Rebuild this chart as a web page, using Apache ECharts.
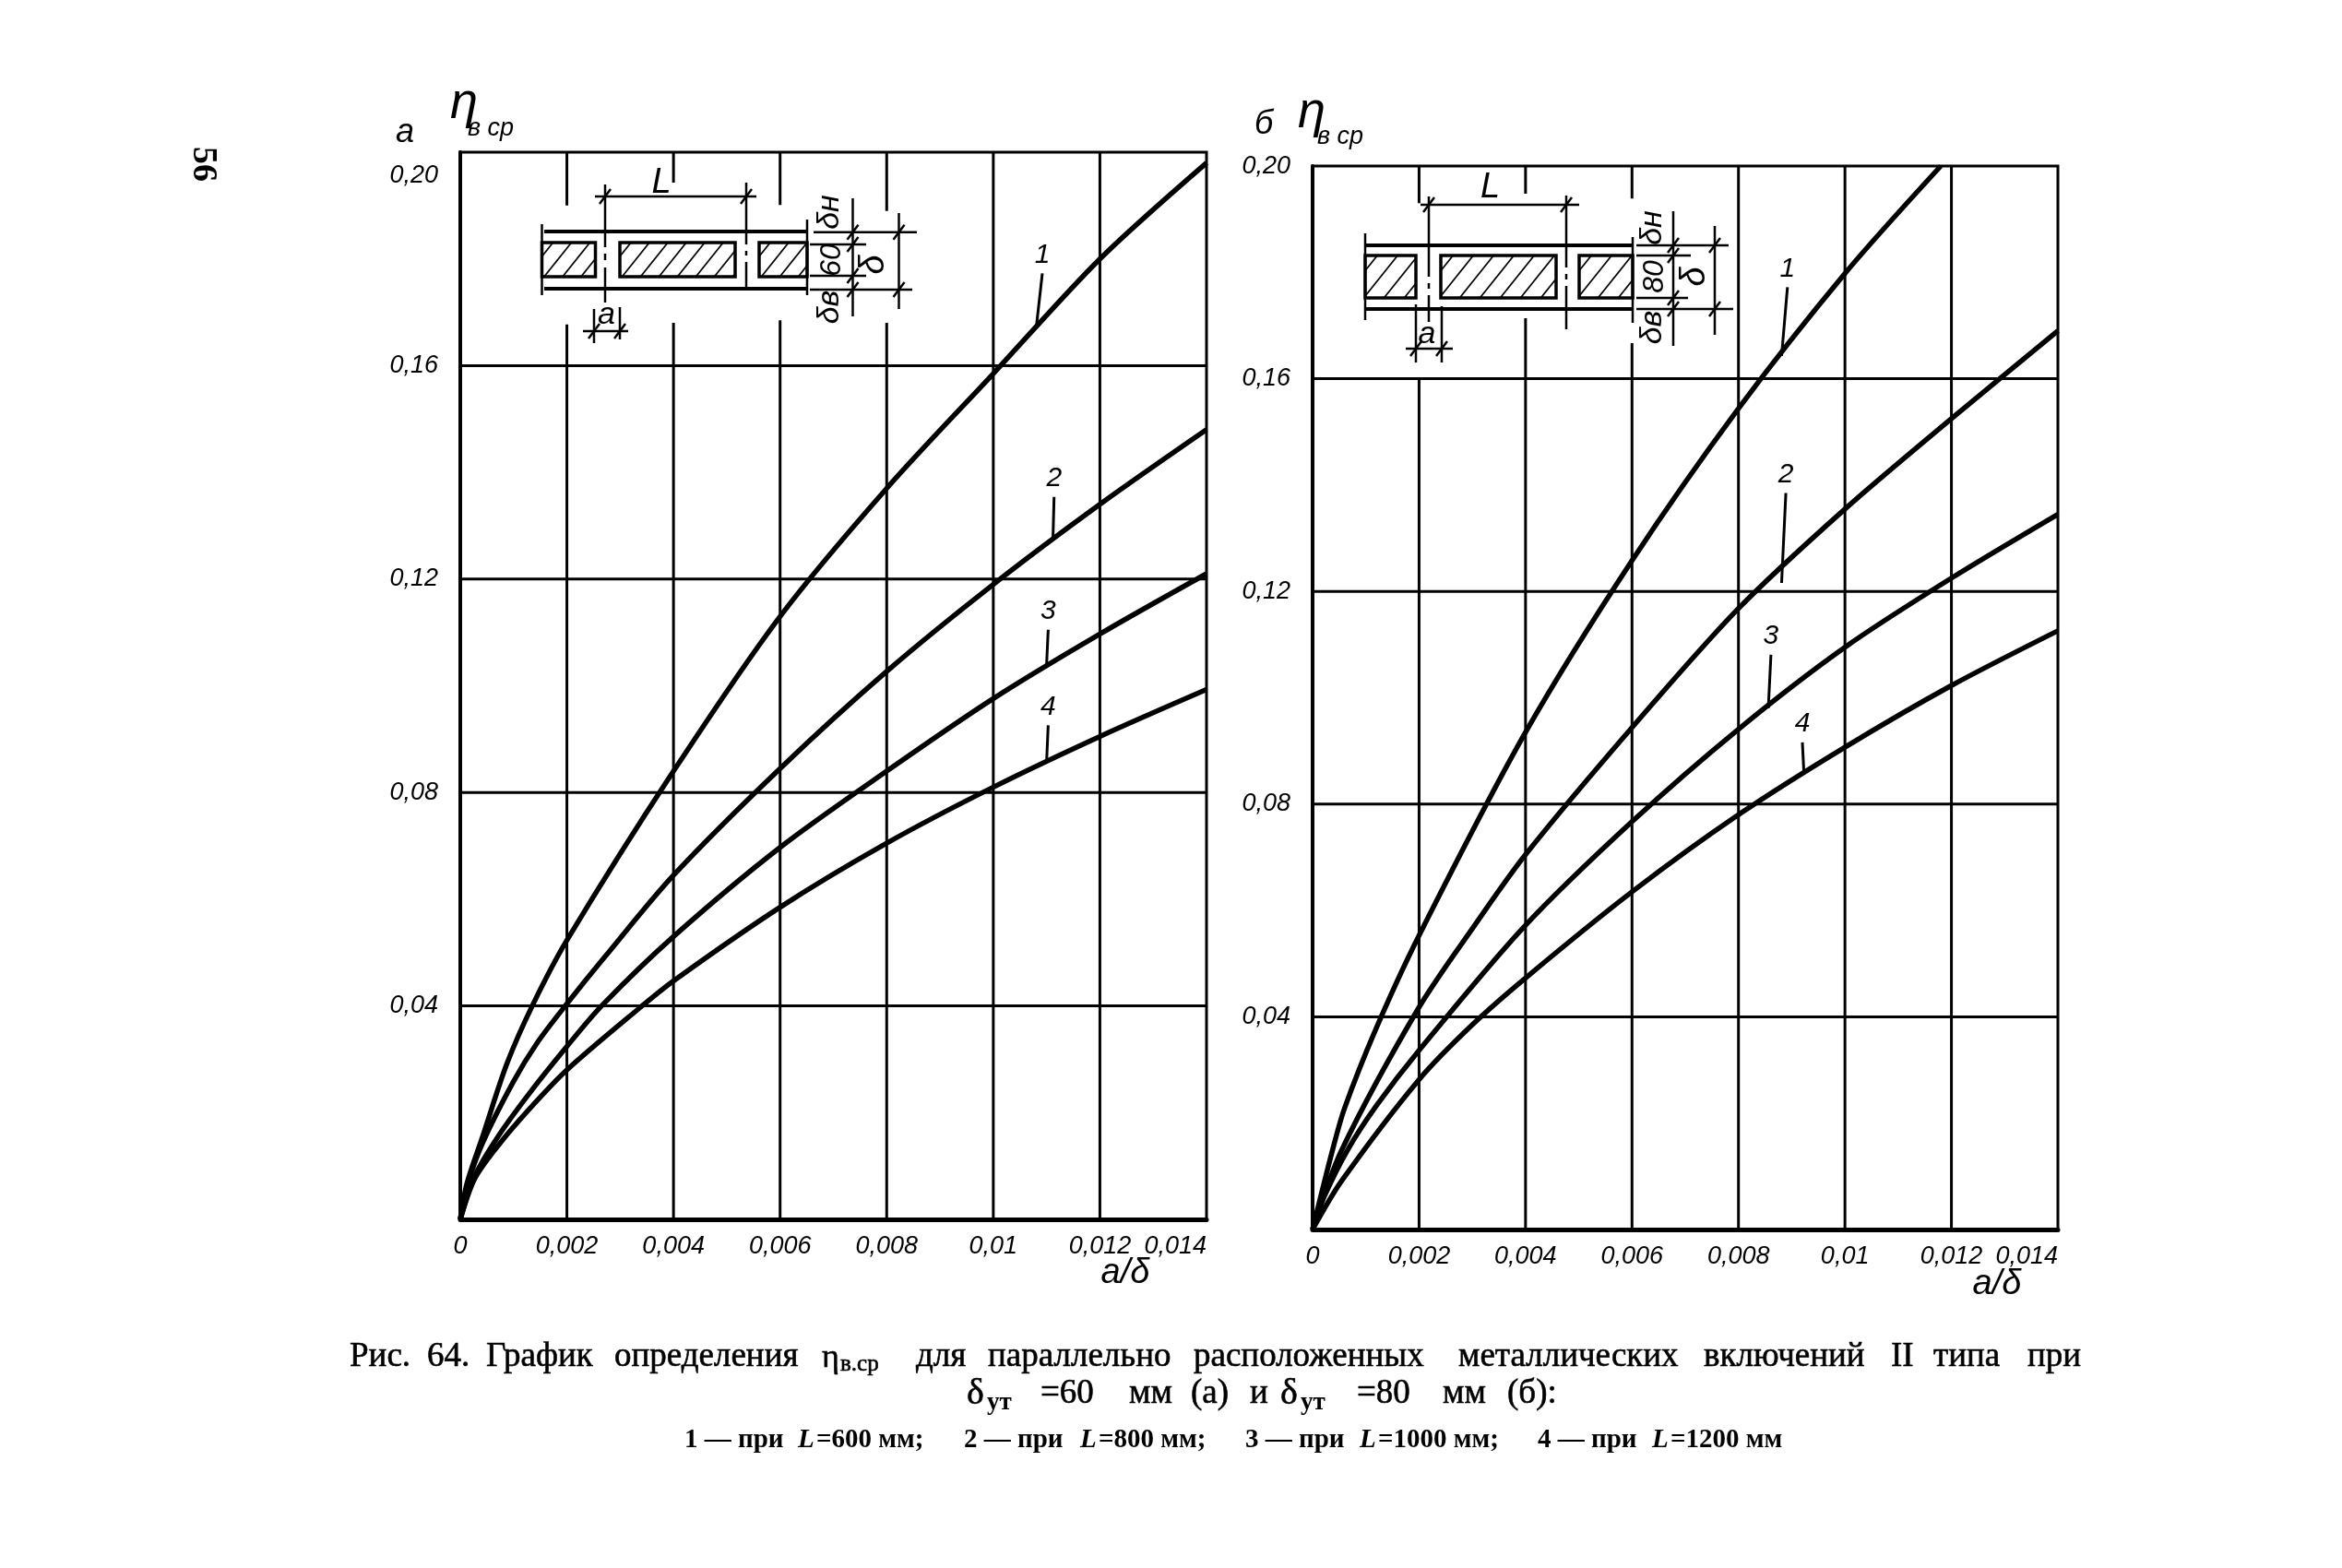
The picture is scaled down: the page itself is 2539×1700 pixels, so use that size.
<!DOCTYPE html>
<html><head><meta charset="utf-8">
<style>html,body{margin:0;padding:0;background:#fff}#c{width:2539px;height:1700px}</style>
<script src="https://cdn.jsdelivr.net/npm/echarts@6/dist/echarts.min.js"></script>
</head><body><div id="c"></div>
<script>
// ---------- tick labels ----------
const xTickLabels = ['0','0,002','0,004','0,006','0,008','0,01','0,012','0,014'];
const yTickLabels = ['','0,04','0,08','0,12','0,16','0,20'];
const xTicks = [0.002,0.004,0.006,0.008,0.01,0.012,0.014];
const yTicks = [0.04,0.08,0.12,0.16];

// ---------- panel a curves [a/delta, eta] ----------
const a1 = [[0,0],[0.000127,0.0068],[0.000415,0.0154],[0.000876,0.0292],[0.00135,0.04],[0.002,0.0523],[0.004,0.084],[0.006,0.113],[0.008,0.137],[0.01,0.1585],[0.012,0.18],[0.014,0.198]];
const a2 = [[0,0],[0.000127,0.0062],[0.000415,0.01425],[0.00099,0.0257],[0.00145,0.0332],[0.002,0.0404],[0.00272,0.0493],[0.004,0.0645],[0.006,0.0845],[0.008,0.1027],[0.01,0.119],[0.012,0.134],[0.014,0.148]];
const a3 = [[0,0],[0.00027,0.0081],[0.0007,0.0154],[0.00128,0.0234],[0.002,0.0324],[0.00265,0.04],[0.004,0.053],[0.006,0.0697],[0.008,0.084],[0.01,0.0976],[0.012,0.1097],[0.014,0.121]];
const a4 = [[0,0],[0.00027,0.0076],[0.0007,0.0137],[0.00128,0.0205],[0.002,0.028],[0.00335,0.0395],[0.004,0.0447],[0.006,0.0585],[0.008,0.0705],[0.01,0.081],[0.012,0.0905],[0.014,0.0993]];
// ---------- panel b curves ----------
const b1 = [[0,0],[0.000376,0.015],[0.0006,0.0228],[0.00118,0.0375],[0.002,0.0553],[0.004,0.0935],[0.006,0.1258],[0.008,0.1544],[0.01,0.1798],[0.0118,0.2]];
const b2 = [[0,0],[0.00055,0.015],[0.002,0.0418],[0.00303,0.057],[0.004,0.0705],[0.006,0.0944],[0.008,0.1168],[0.01,0.1355],[0.012,0.1525],[0.014,0.169]];
const b3 = [[0,0],[0.00022,0.0062],[0.00066,0.015],[0.0012,0.0233],[0.002,0.0337],[0.00396,0.0568],[0.006,0.0767],[0.008,0.0941],[0.01,0.1095],[0.012,0.1225],[0.014,0.1345]];
const b4 = [[0,0],[0.00055,0.0092],[0.002,0.0282],[0.003,0.0385],[0.004,0.0473],[0.006,0.0635],[0.008,0.078],[0.01,0.0907],[0.012,0.1023],[0.014,0.1126]];

// ---------- leader lines of curve numbers ----------
const curveNames = ['1','2','3','4'];
const leadersA = [[[0.01092,0.1773],[0.01081,0.1675]],[[0.01114,0.1354],[0.01112,0.1278]],[[0.01103,0.1105],[0.0110,0.1041]],[[0.01103,0.0926],[0.0110,0.0859]]];
const leadersB = [[[0.00892,0.1772],[0.00881,0.1643]],[[0.00889,0.1385],[0.00881,0.1216]],[[0.00861,0.1081],[0.00856,0.098]],[[0.0092,0.0916],[0.00923,0.0857]]];

// ---------- vertical grid lines, interrupted behind the inset ----------
const gapsA = {0.002:[0.19,0.1677],0.004:[0.1943,0.168],0.006:[0.1901,0.1685],0.008:[0.189,0.168]};
const gapsB = {0.002:[0.193,0.16],0.004:[0.1948,0.1714],0.006:[0.1939,0.1667]};

const NARROW = '"Liberation Sans",sans-serif';
const SERIF = '"Liberation Serif",serif';

function gridSeries(i, gaps){
  const d = [];
  xTicks.slice(0,-1).forEach(x=>{
    const g = gaps[x];
    if(g){ d.push([x,0.2],[x,g[0]],['-','-'],[x,g[1]],[x,0],['-','-']); }
    else { d.push([x,0.2],[x,0],['-','-']); }
  });
  yTicks.forEach(y=>{ d.push([0,y],[0.014,y],['-','-']); });
  return {type:'line',xAxisIndex:i,yAxisIndex:i,data:d,showSymbol:false,symbol:'none',silent:true,z:1,
    connectNulls:false,lineStyle:{color:'#000',width:3,cap:'butt'}};
}
function curve(i,d){
  return {type:'line',xAxisIndex:i,yAxisIndex:i,data:d,smooth:0.3,showSymbol:false,symbol:'none',silent:true,z:3,
    clip:true,lineStyle:{color:'#000',width:5.5}};
}
function leader(i,pts,name){
  return {type:'line',xAxisIndex:i,yAxisIndex:i,name:name,silent:true,z:2,symbol:'circle',symbolSize:0,showSymbol:true,showAllSymbol:true,
    lineStyle:{color:'#000',width:3},
    data:[{value:pts[0],label:{show:true,position:'top',distance:5,formatter:name,color:'#000',
      fontFamily:NARROW,fontStyle:'italic',fontSize:30}},{value:pts[1]}]};
}
function xAxis(i){
  return {type:'value',gridIndex:i,min:0,max:0.014,interval:0.002,
    axisLine:{show:true,onZero:false,lineStyle:{color:'#000',width:5}},axisTick:{show:false},splitLine:{show:false},
    axisLabel:{show:true,margin:16,showMaxLabel:true,showMinLabel:true,hideOverlap:false,alignMaxLabel:'right',color:'#000',fontFamily:NARROW,fontStyle:'italic',fontSize:27,
      formatter:(v,idx)=>xTickLabels[Math.round(v/0.002)]}};
}
function yAxis(i,dropTop){
  return {type:'value',gridIndex:i,min:0,max:0.2,interval:0.04,
    axisLine:{show:true,onZero:false,lineStyle:{color:'#000',width:4}},axisTick:{show:false},splitLine:{show:false},
    axisLabel:{show:true,margin:24,color:'#000',fontFamily:NARROW,fontStyle:'italic',fontSize:27,
      verticalAlignMaxLabel:dropTop?'top':'middle',
      rich:{hi:{padding:[12,0,0,0],color:'#000',fontFamily:NARROW,fontStyle:'italic',fontSize:27}},
      formatter:(v,idx)=>{const s=yTickLabels[Math.round(v/0.04)];return (dropTop&&Math.round(v/0.04)===5)?'{hi|'+s+'}':s;}}};
}

// ---------- graphic helpers for the inset sketches and free text ----------
const G = [];
const seg=(x1,y1,x2,y2,w)=>G.push({type:'line',silent:true,z:10,shape:{x1,y1,x2,y2},style:{stroke:'#000',lineWidth:w||2.5}});
const box=(x,y,width,height)=>G.push({type:'rect',silent:true,z:10,shape:{x,y,width,height},style:{fill:'none',stroke:'#000',lineWidth:3.5}});
const txt=(text,x,y,size,o)=>{o=o||{};const st={text,fill:'#000',
  font:(o.style||'')+' '+(o.weight||'')+' '+size+'px '+(o.family||NARROW),align:o.align||'center',verticalAlign:'middle'};
  if(o.heavy){st.stroke='#000';st.lineWidth=o.heavy;}
  G.push({type:'text',silent:true,z:11,x,y,rotation:o.rot||0,style:st});};
function hatch(x0,x1,y0,y1,step){
  const h=y1-y0, dx=h*0.8;
  for(let s=x0-dx+step*0.6;s<x1;s+=step){
    let ax=s, ay=y1, bx=s+dx, by=y0;
    if(ax<x0){ ay=y1-(x0-ax)/dx*h; ax=x0; }
    if(bx>x1){ by=y0+(bx-x1)/dx*h; bx=x1; }
    seg(ax,ay,bx,by,1.8);
  }
}
const ROT = Math.PI/2;
const ITAL = {style:'italic'};
function tick(x,y){ seg(x-6,y+8,x+6,y-8,2.5); }

// inset a
seg(590,251,875,251,4); seg(590,313,875,313,4);
seg(587.5,243,587.5,320); seg(875,238,875,320);
box(587.5,263,58,37); box(672,263,125,37); box(823,263,52,37);
hatch(587.5,645.5,263,300,20); hatch(672,797,263,300,20); hatch(823,875,263,300,20);
seg(656,200,656,268); seg(656,275,656,282); seg(656,290,656,328);
seg(809,198,809,265); seg(809,272,809,277); seg(809,284,809,312);
seg(645,213,820,213); tick(656,213); tick(809,213);
txt('L',717,198,38,ITAL);
seg(924.5,215,924.5,343);
seg(882,251.7,994,251.7); seg(878,265,939,265); seg(878,299,939,299); seg(878,314,989,314);
seg(974.5,231,974.5,335); tick(974.5,251.7); tick(974.5,314); tick(924.5,251.7); tick(924.5,265); tick(924.5,299); tick(924.5,314);
txt('δн',900,230,34,{style:'italic',rot:ROT});
txt('60',902,282,32,{style:'italic',rot:ROT});
txt('δ',947,287,38,{style:'italic',rot:ROT});
txt('δв',900,333,34,{style:'italic',rot:ROT});
txt('a',657.5,342,34,ITAL);
seg(632,359,681,359); seg(644,335,644,372); seg(672,333,672,368); tick(644,359); tick(672,359);

// inset b
seg(1480,266,1770,266,4); seg(1480,335,1770,335,4);
seg(1480,253,1480,347); seg(1770,257,1770,350);
box(1480,277,55,46); box(1562,277,125,46); box(1712,277,58,46);
hatch(1480,1535,277,323,22); hatch(1562,1687,277,323,22); hatch(1712,1770,277,323,22);
seg(1549,213,1549,300); seg(1549,307,1549,313); seg(1549,320,1549,349);
seg(1698,212,1698,290); seg(1698,297,1698,303); seg(1698,310,1698,357);
seg(1540,222,1712,222); tick(1549,222); tick(1698,222);
txt('L',1615.6,203,38,ITAL);
seg(1814,229,1814,375);
seg(1774,266,1874,266); seg(1774,277,1833,277); seg(1774,323,1830,323); seg(1774,335,1879,335);
seg(1859,245,1859,363); tick(1859,266); tick(1859,335); tick(1814,266); tick(1814,277); tick(1814,323); tick(1814,335);
txt('δн',1792,247,34,{style:'italic',rot:ROT});
txt('80',1794,300,32,{style:'italic',rot:ROT});
txt('δ',1837,300,38,{style:'italic',rot:ROT});
txt('δв',1792,355,34,{style:'italic',rot:ROT});
txt('a',1547,363,34,ITAL);
seg(1524,378,1575,378); seg(1535,330,1535,393); seg(1563,332,1563,393); tick(1535,378); tick(1563,378);

// panel headers and axis names
txt('a',439,144,36,ITAL); txt('η',503,113,54,ITAL); txt('в ср',532,139,27,ITAL);
txt('б',1370,135,36,ITAL); txt('η',1422,123,54,ITAL); txt('в ср',1453,148,27,ITAL);
txt('a/δ',1220,1380,38,ITAL); txt('a/δ',2165,1392,38,ITAL);
txt('56',220,178,38,{family:SERIF,weight:'bold',rot:-Math.PI/2});

// caption, word by word
const cap1 = [['Рис.',379],['64.',463],['График',527],['определения',666],['для',993],['параллельно',1071],['расположенных',1294],['металлических',1581],['включений',1847],['II',2050],['типа',2096],['при',2198]];
cap1.forEach(c=>txt(c[0],c[1],1471,37,{family:SERIF,align:'left',heavy:0.6}));
txt('η',891,1473,36,{family:SERIF,align:'left',heavy:0.6}); txt('в.ср',911,1479,25,{family:SERIF,align:'left',heavy:0.6});
const cap2 = [['δ',1048,40],['=60',1128,37],['мм',1224,37],['(а)',1291,37],['и',1355,37],['δ',1388,40],['=80',1471,37],['мм',1564,37],['(б):',1634,37]];
cap2.forEach(c=>txt(c[0],c[1],1511,c[2],{family:SERIF,align:'left',heavy:0.6}));
txt('ут',1070,1521,27,{family:SERIF,weight:'bold',align:'left'}); txt('ут',1410,1521,27,{family:SERIF,weight:'bold',align:'left'});
const cap3 = [['1 — при',742],['L',865],['=600 мм;',885],['2 — при',1045],['L',1171],['=800 мм;',1191],['3 — при',1350],['L',1474],['=1000 мм;',1494],['4 — при',1667],['L',1791],['=1200 мм',1811]];
cap3.forEach(c=>txt(c[0],c[1],1562,29,{family:SERIF,weight:'bold',align:'left',style:c[0]==='L'?'italic':''}));

const chart = echarts.init(document.getElementById('c'),null,{renderer:'canvas'});
chart.setOption({
  backgroundColor:'#fff',animation:false,
  grid:[
    {left:499,top:165,width:809,height:1157,show:true,borderColor:'#000',borderWidth:3,backgroundColor:'#fff'},
    {left:1423,top:180,width:808,height:1153,show:true,borderColor:'#000',borderWidth:3,backgroundColor:'#fff'}
  ],
  xAxis:[xAxis(0),xAxis(1)],
  yAxis:[yAxis(0,true),yAxis(1,false)],
  series:[
    gridSeries(0,gapsA),gridSeries(1,gapsB),
    curve(0,a1),curve(0,a2),curve(0,a3),curve(0,a4),
    curve(1,b1),curve(1,b2),curve(1,b3),curve(1,b4),
    ...leadersA.map((p,k)=>leader(0,p,curveNames[k])),
    ...leadersB.map((p,k)=>leader(1,p,curveNames[k]))
  ],
  graphic:G
});
</script></body></html>
